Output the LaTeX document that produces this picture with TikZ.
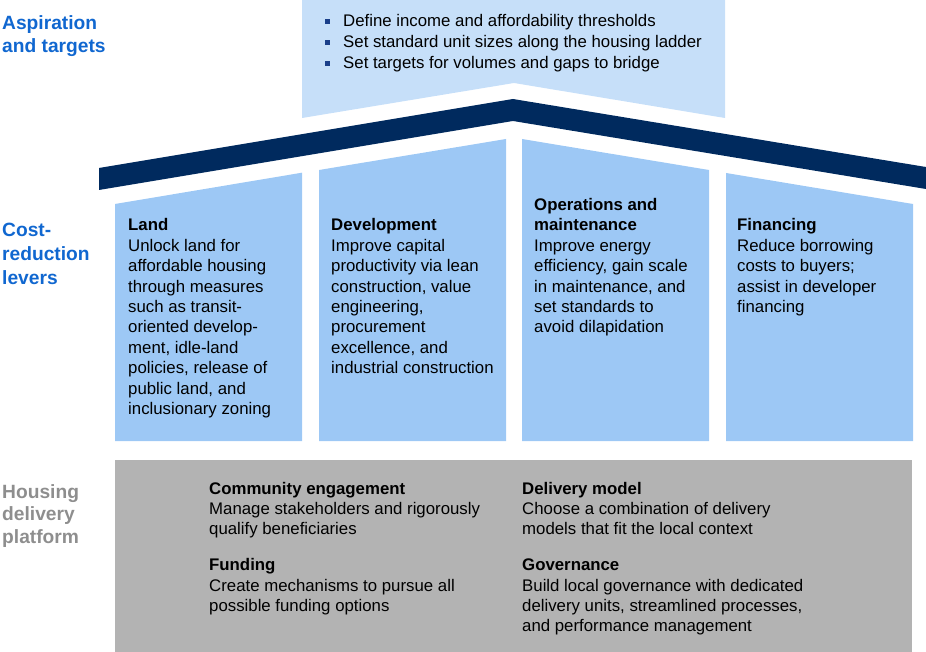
\documentclass[tikz,border=0pt]{standalone}
\usepackage{fontspec}
\setmainfont{Liberation Sans}
\definecolor{topblue}{HTML}{C6DFF9}
\definecolor{pillarblue}{HTML}{9DC8F5}
\definecolor{roofnavy}{HTML}{002A5E}
\definecolor{bulletblue}{HTML}{1A3F8A}
\definecolor{basegray}{HTML}{B3B3B3}
\definecolor{lblblue}{HTML}{1067D0}
\definecolor{lblgray}{HTML}{8E8E8E}
\newcommand\mlines[2][20.4pt]{\vtop{\baselineskip=#1\lineskiplimit=-30pt\lineskip=0pt\halign{##\hfil\cr#2\crcr}}}
\begin{document}
\begin{tikzpicture}[x=1pt,y=-1pt,
  txt/.style={anchor=base west, inner sep=0pt, font=\fontsize{16.8}{20.4}\selectfont},
  lbl/.style={anchor=base west, inner sep=0pt, font=\fontsize{19.2}{23.5}\selectfont\bfseries},
  bul/.style={rectangle, fill=bulletblue, inner sep=0pt, minimum size=5pt}]
\useasboundingbox (0,0) rectangle (926,652);
% top box
\fill[topblue] (302,0) -- (725,0) -- (725,118) -- (514,83) -- (302,118) -- cycle;
% roof
\fill[roofnavy] (99,168) -- (513,99) -- (926,167) -- (926,189) -- (513,121) -- (99,190) -- cycle;
% pillars
\fill[pillarblue] (115,204) -- (302,172.7) -- (302,441) -- (115,441) -- cycle;
\fill[pillarblue] (319,170) -- (506,139) -- (506,441) -- (319,441) -- cycle;
\fill[pillarblue] (522,139) -- (709,170) -- (709,441) -- (522,441) -- cycle;
\fill[pillarblue] (726,173) -- (913,204) -- (913,441) -- (726,441) -- cycle;
% base
\fill[basegray] (115,460) rectangle (912,652);
% left labels
\node[lbl, text=lblblue] (asp) at (2,30) {\mlines[23pt]{Aspiration\cr and targets}};
\node[lbl, text=lblblue] (cost) at (2,237) {\mlines[24pt]{Cost-\cr reduction\cr levers}};
\node[lbl, text=lblgray] (hous) at (2,498) {\mlines[22.7pt]{Housing\cr delivery\cr platform}};
% top bullets
\node[bul] (b1) at (327.5,21.5) {};
\node[bul] (b2) at (327.5,42.3) {};
\node[bul] (b3) at (327.5,63.1) {};
\node[txt] (t1) at (343,26.5) {\mlines[20.8pt]{Define income and affordability thresholds\cr Set standard unit sizes along the housing ladder\cr Set targets for volumes and gaps to bridge}};
% pillar texts
\node[txt] (land) at (128,231) {\mlines{\textbf{Land}\cr Unlock land for\cr affordable housing\cr through measures\cr such as transit-\cr oriented develop-\cr ment, idle-land\cr policies, release of\cr public land, and\cr inclusionary zoning}};
\node[txt] (dev) at (331,231) {\mlines{\textbf{Development}\cr Improve capital\cr productivity via lean\cr construction, value\cr engineering,\cr procurement\cr excellence, and\cr industrial construction}};
\node[txt] (ops) at (534,210.6) {\mlines{\textbf{Operations and}\cr \textbf{maintenance}\cr Improve energy\cr efficiency, gain scale\cr in maintenance, and\cr set standards to\cr avoid dilapidation}};
\node[txt] (fin) at (737,231) {\mlines{\textbf{Financing}\cr Reduce borrowing\cr costs to buyers;\cr assist in developer\cr financing}};
% base texts
\node[txt] (comm) at (209,494) {\mlines[20.3pt]{\textbf{Community engagement}\cr Manage stakeholders and rigorously\cr qualify beneficiaries}};
\node[txt] (fund) at (209,570.7) {\mlines[20.3pt]{\textbf{Funding}\cr Create mechanisms to pursue all\cr possible funding options}};
\node[txt] (deliv) at (522,494) {\mlines[20.3pt]{\textbf{Delivery model}\cr Choose a combination of delivery\cr models that fit the local context}};
\node[txt] (gov) at (522,570.7) {\mlines[20.3pt]{\textbf{Governance}\cr Build local governance with dedicated\cr delivery units, streamlined processes,\cr and performance management}};
\end{tikzpicture}
\end{document}
